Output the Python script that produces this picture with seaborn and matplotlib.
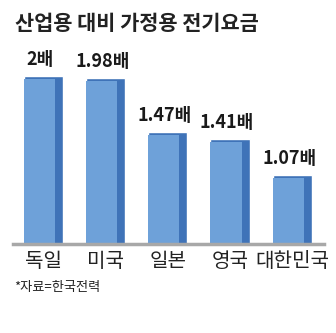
import matplotlib
matplotlib.use("Agg")
import matplotlib.pyplot as plt
import seaborn as sns
import pandas as pd

countries = ["독일", "미국", "일본", "영국", "대한민국"]
ratios = [2.0, 1.98, 1.47, 1.41, 1.07]
value_labels = ["2배", "1.98배", "1.47배", "1.41배", "1.07배"]
title = "산업용 대비 가정용 전기요금"
source = "*자료=한국전력"

sns.set_theme(style="white")
plt.rcParams['font.family'] = ['Noto Sans CJK KR', 'DejaVu Sans']

front_color = "#6ea1d9"
side_color = "#3f73b8"

df = pd.DataFrame({"country": countries, "ratio": ratios})

fig = plt.figure(figsize=(3.36, 3.33), dpi=100)
W, H = 336, 333
ax = fig.add_axes([13 / W, (H - 244) / H, 311 / W, 204 / H])

# side (darker) faces
sns.barplot(data=df, x="country", y="ratio", color=side_color, width=0.63,
            saturation=1, ax=ax, zorder=2)
# front faces
xs = list(range(len(countries)))
ax.bar([x - 0.065 for x in xs], [r - 0.03 for r in ratios], width=0.50,
       color=front_color, zorder=3, linewidth=0)

ax.set_ylim(0.42, 2.335)
ax.set_xlim(-0.49, 4.51)
ax.set_xlabel("")
ax.set_ylabel("")
ax.set_yticks([])

for sp in ["top", "right", "left"]:
    ax.spines[sp].set_visible(False)
ax.spines["bottom"].set_color("#a8a8a8")
ax.spines["bottom"].set_linewidth(2.5)
ax.spines["bottom"].set_zorder(4)

ax.tick_params(axis="x", length=0, pad=5, labelsize=14.5, colors="#222222")

for x, v, lab in zip(xs, ratios, value_labels):
    ax.annotate(lab, (x - 0.05, v), xytext=(0, 5), textcoords="offset points",
                ha="center", va="bottom", fontsize=13, fontweight="bold",
                color="#1a1a1a")

fig.text(15 / W, 1 - 23 / H, title, fontsize=15, fontweight="bold",
         color="#222222", ha="left", va="center")
fig.text(14 / W, 1 - 288 / H, source, fontsize=9.5, color="#222222",
         ha="left", va="center")

fig.savefig("out.png", dpi=100)
